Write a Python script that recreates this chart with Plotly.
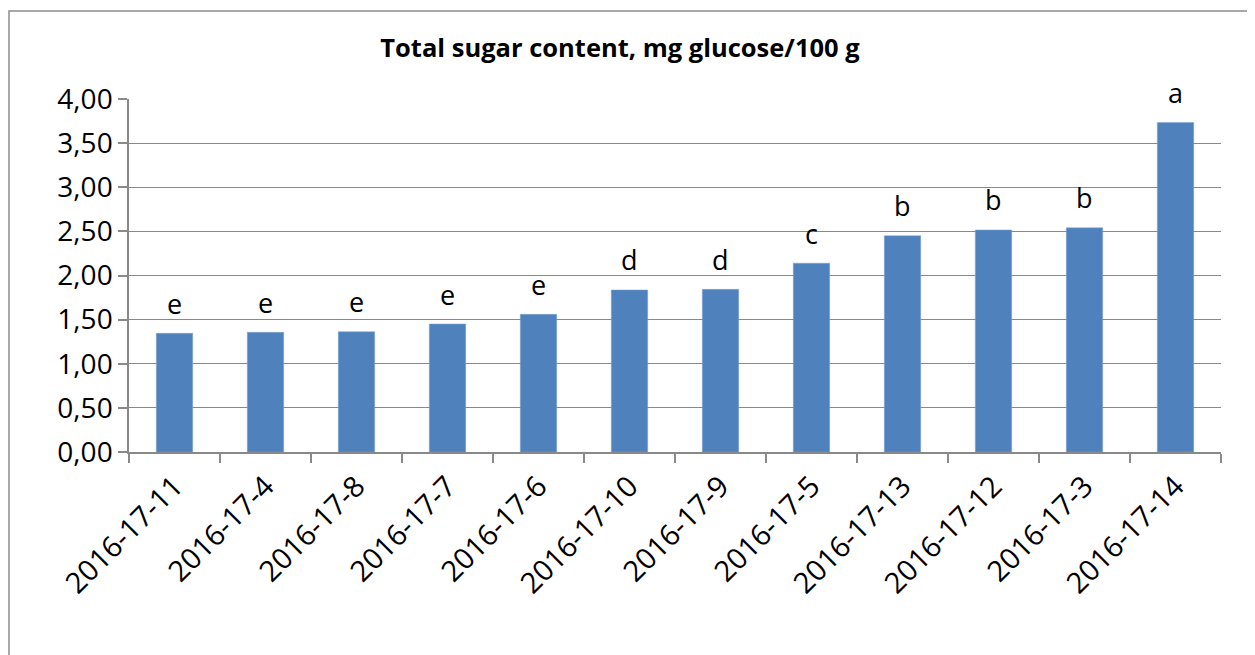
import plotly.graph_objects as go

categories = ["2016-17-11", "2016-17-4", "2016-17-8", "2016-17-7", "2016-17-6",
              "2016-17-10", "2016-17-9", "2016-17-5", "2016-17-13", "2016-17-12",
              "2016-17-3", "2016-17-14"]
values = [1.345, 1.356, 1.363, 1.45, 1.56, 1.836, 1.843, 2.14, 2.45, 2.516, 2.54, 3.735]
letters = ["e", "e", "e", "e", "e", "d", "d", "c", "b", "b", "b", "a"]
title_text = "Total sugar content, mg glucose/100 g"

OFF = 8  # browser body margin
W, H = 1255 - OFF, 655 - OFF
L, R, T, B = 129 - OFF, 1221 - OFF, 99 - OFF, 452 - OFF

fig = go.Figure(go.Bar(
    x=categories, y=values,
    marker=dict(color="#4F81BD", line=dict(color="#7FA3D3", width=0.5)),
    hoverinfo="x+y",
))

for c, v, t in zip(categories, values, letters):
    fig.add_annotation(x=c, y=v, text=t, showarrow=False, yanchor="middle",
                       yshift=30, font=dict(family="Open Sans", size=27, color="black"))

grid = "#898989"
fig.update_layout(
    width=W, height=H,
    margin=dict(l=L, r=W - R, t=T, b=H - B, pad=0),
    paper_bgcolor="white", plot_bgcolor="white",
    separators=",.",
    bargap=0.6,
    showlegend=False,
    font=dict(family="Open Sans", color="black"),
    title=dict(text="<b>" + title_text + "</b>", x=(620 - OFF) / W, xanchor="center",
               y=1 - (48 - OFF) / H, yanchor="middle",
               font=dict(family="Open Sans", size=25.5, color="black")),
    xaxis=dict(
        type="category", showgrid=False, showline=True, linecolor=grid, linewidth=1.5,
        ticks="outside", tickson="boundaries", ticklen=9, tickcolor=grid, tickwidth=1.5,
        tickangle=-45, ticklabelstandoff=4,
        tickfont=dict(family="Open Sans", size=29, color="black"),
    ),
    yaxis=dict(
        range=[0, 4], dtick=0.5, tick0=0, tickformat=".2f",
        showgrid=True, gridcolor=grid, gridwidth=1.2,
        showline=True, linecolor=grid, linewidth=1.5,
        ticks="outside", ticklen=9, tickcolor=grid, tickwidth=1.5,
        tickfont=dict(family="Open Sans", size=28, color="black"),
        zeroline=False,
    ),
)

pw, ph = R - L, B - T
fig.add_shape(type="rect", xref="paper", yref="paper",
              x0=(9 - OFF - L) / pw, x1=(1300 - OFF - L) / pw,
              y0=(B - 700) / ph, y1=(B - (11 - OFF)) / ph,
              line=dict(color="#8C8C8C", width=1.5), fillcolor="rgba(0,0,0,0)", layer="below")

fig.write_html("out.html")
